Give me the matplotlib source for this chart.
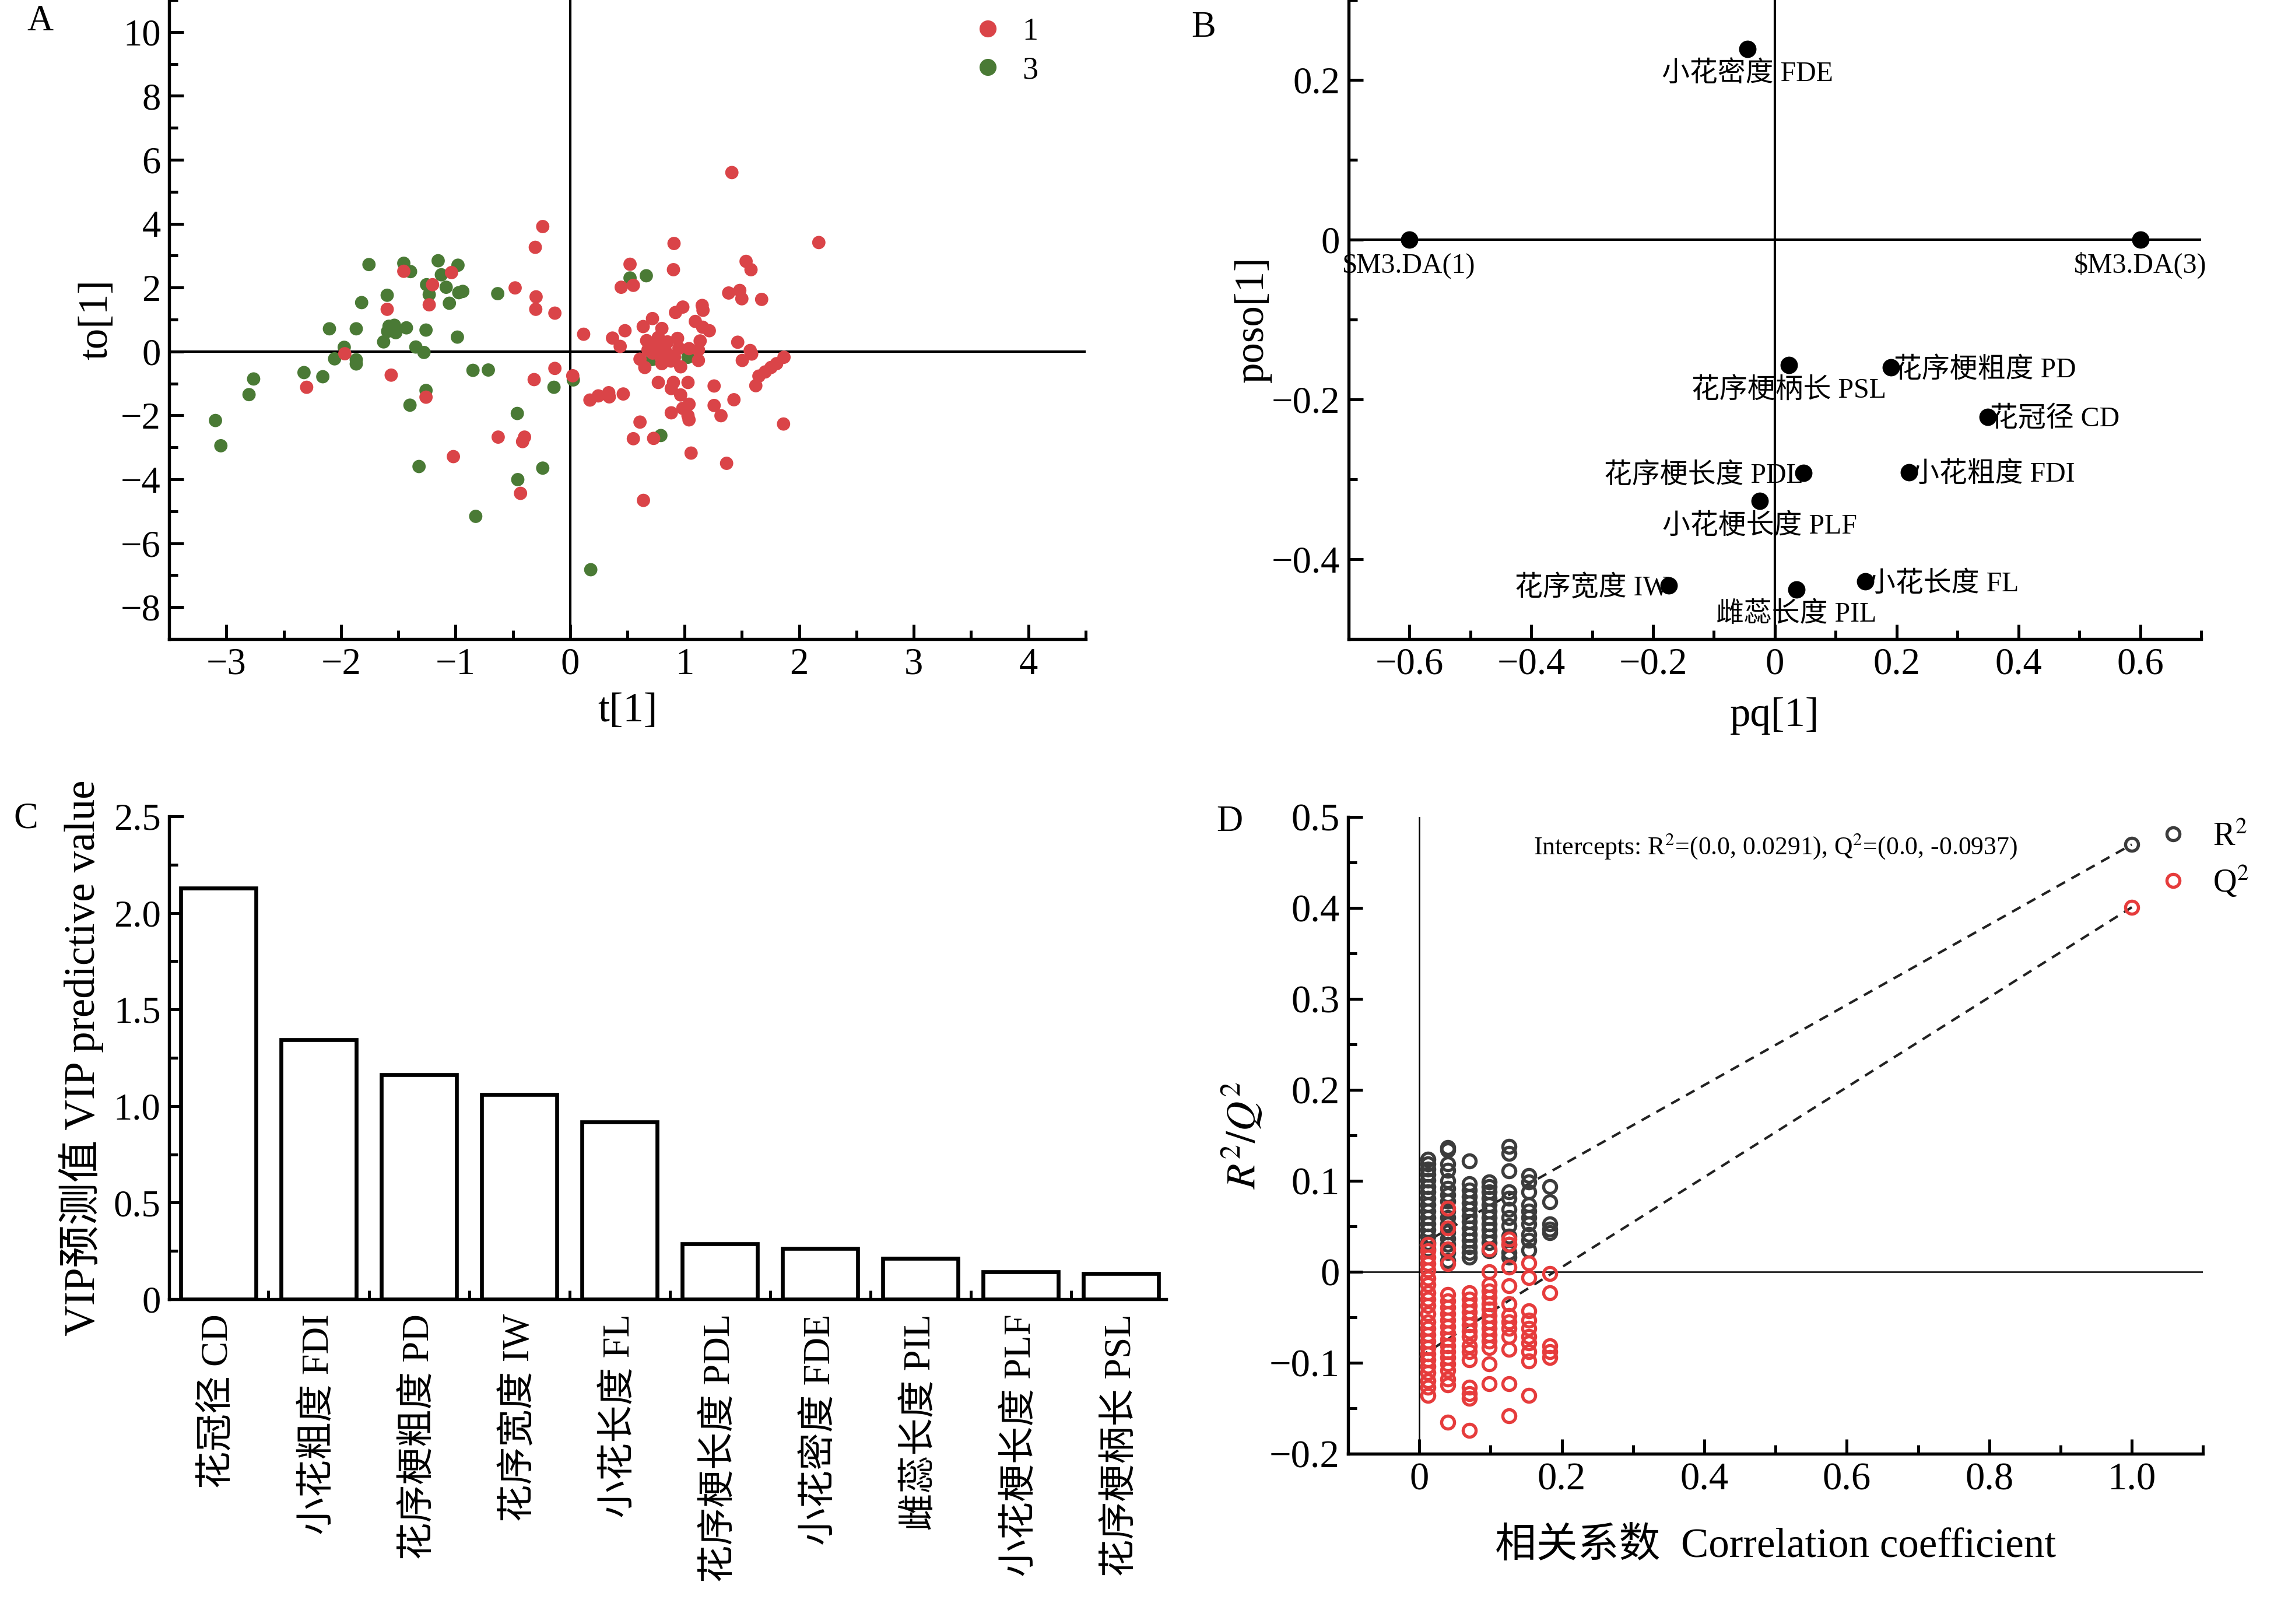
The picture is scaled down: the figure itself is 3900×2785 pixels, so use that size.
import matplotlib
matplotlib.use('Agg')
import numpy as np
import matplotlib.pyplot as plt
from matplotlib.ticker import MultipleLocator, FuncFormatter
from matplotlib.lines import Line2D

plt.rcParams['font.family'] = ['Liberation Serif', 'Noto Sans CJK SC']
plt.rcParams['mathtext.fontset'] = 'stix'
plt.rcParams['axes.unicode_minus'] = True

# ---- panel A : OPLS-DA scores, group 1 (red) and group 3 (green)
g1_t = [-1.452, -1.035, -1.201, -1.597, -1.230, -0.480, -0.297, -0.300, -0.133, -0.239,
        -0.304, -1.967, -2.300, -1.562, -0.133, -0.314, 0.023, -1.258, -0.628, -0.398,
        -0.415, -1.019, -0.433, 1.412, 2.171, 0.907, 0.523, 0.446, 0.552, 0.902,
        1.536, 1.579, 1.384, 1.481, 1.499, 1.672, 0.984, 0.920, 1.153, 1.160,
        0.719, 0.638, 0.801, 1.093, 1.157, 1.215, 0.118, 0.479, 0.370, 0.437,
        0.668, 0.770, 0.938, 1.135, 1.463, 0.774, 0.829, 0.865, 0.792, 1.038,
        1.120, 1.572, 1.585, 0.610, 0.801, 0.911, 1.120, 0.652, 0.965, 1.503,
        1.867, 1.803, 1.754, 1.703, 1.648, 1.621, 0.770, 0.902, 0.883, 1.029,
        0.965, 1.257, 0.173, 0.246, 0.337, 0.342, 0.464, 1.430, 1.038, 0.984,
        0.883, 1.029, 1.038, 1.257, 1.317, 0.610, 1.863, 0.729, 0.552, 1.056,
        1.366, 0.640, 0.750, 0.850, 0.720, 0.880, 0.950, 0.680]
g1_to = [2.51, 2.47, 2.09, 1.32, 1.46, 1.99, 1.71, 1.32, 1.20, 3.91,
         3.26, -0.07, -1.12, -0.74, -0.53, -0.88, -0.76, -1.43, -2.68, -2.68,
         -2.82, -3.29, -4.44, 5.60, 3.41, 3.38, 2.73, 2.01, 2.07, 2.56,
         2.82, 2.56, 1.83, 1.91, 1.65, 1.63, 1.39, 1.22, 1.44, 1.29,
         1.03, 0.78, 0.72, 0.94, 0.76, 0.65, 0.54, 0.65, 0.42, 0.16,
         0.34, 0.44, 0.41, 0.33, 0.29, 0.14, 0.05, -0.12, -0.18, 0.09,
         0.05, 0.03, -0.08, -0.24, -0.38, -0.18, -0.28, -0.50, -0.48, -0.28,
         -0.18, -0.38, -0.50, -0.64, -0.77, -1.07, -0.97, -0.97, -1.16, -0.97,
         -1.36, -1.08, -1.52, -1.39, -1.29, -1.42, -1.33, -1.51, -1.65, -1.78,
         -1.92, -2.01, -2.14, -1.69, -2.01, -2.21, -2.27, -2.72, -2.73, -3.18,
         -3.50, -4.66, 0.25, 0.30, -0.05, -0.30, 0.10, 0.05]
g3_t = [-1.756, -1.452, -1.393, -1.152, -0.979, -1.124, -1.253, -1.082, -1.230, -0.972,
        -0.937, -1.597, -1.820, -1.054, -0.632, -2.101, -1.867, -1.581, -1.534, -1.593,
        -1.522, -1.429, -1.628, -1.258, -0.984, -1.347, -1.276, -1.972, -2.056, -1.867,
        -1.867, -2.323, -2.159, -2.763, -2.803, -0.848, -0.714, -0.141, 0.028, -1.258,
        -1.398, -3.096, -3.049, -0.461, -1.319, -0.239, -0.457, -0.824, 0.180, 0.523,
        0.665, 0.716, 1.029, 0.792]
g3_to = [2.72, 2.76, 2.50, 2.84, 2.70, 2.40, 2.09, 2.01, 1.78, 1.84,
         1.88, 1.76, 1.53, 1.51, 1.81, 0.71, 0.71, 0.79, 0.82, 0.63,
         0.59, 0.74, 0.30, 0.67, 0.45, 0.14, -0.03, 0.13, -0.23, -0.26,
         -0.39, -0.66, -0.79, -0.86, -1.35, -0.59, -0.58, -1.12, -0.89, -1.22,
         -1.68, -2.16, -2.95, -1.94, -3.60, -3.65, -4.01, -5.16, -6.83, 2.30,
         2.37, -0.25, -0.18, -2.63]

# ---- panel B : loadings
load_names = ['小花密度 FDE', '$M3.DA(1)', '$M3.DA(3)', '花序梗柄长 PSL', '花序梗粗度 PD',
              '花冠径 CD', '小花粗度 FDI', '花序梗长度 PDL', '小花梗长度 PLF',
              '花序宽度 IW', '雌蕊长度 PIL', '小花长度 FL']
load_pq = [-0.045, -0.600, 0.600, 0.023, 0.191, 0.349, 0.220, 0.047, -0.025, -0.174, 0.035, 0.148]
load_poso = [0.239, 0.0, 0.0, -0.157, -0.160, -0.222, -0.291, -0.292, -0.327, -0.433, -0.438, -0.428]
load_pos = ['below', 'below', 'below', 'below', 'right', 'right', 'right', 'left',
            'below', 'left', 'below', 'right']

# ---- panel C : VIP
vip_names = ['花冠径 CD', '小花粗度 FDI', '花序梗粗度 PD', '花序宽度 IW', '小花长度 FL',
             '花序梗长度 PDL', '小花密度 FDE', '雌蕊长度 PIL', '小花梗长度 PLF', '花序梗柄长 PSL']
vip_values = [2.13, 1.345, 1.162, 1.061, 0.918, 0.286, 0.263, 0.210, 0.143, 0.134]

# ---- panel D : permutation test
perm_corr = [0.012, 0.040, 0.070, 0.098, 0.126, 0.154, 0.183]
r2_perm = [
    [0.124, 0.119, 0.113, 0.107, 0.101, 0.094, 0.088, 0.081, 0.074, 0.067, 0.060, 0.053,
     0.046, 0.039, 0.032, 0.025],
    [0.137, 0.134, 0.119, 0.112, 0.100, 0.092, 0.085, 0.078, 0.067, 0.060, 0.053, 0.044,
     0.037, 0.030, 0.021, 0.012],
    [0.122, 0.097, 0.090, 0.083, 0.076, 0.069, 0.062, 0.055, 0.048, 0.041, 0.035, 0.028,
     0.021, 0.016],
    [0.099, 0.094, 0.088, 0.081, 0.074, 0.067, 0.060, 0.053, 0.046, 0.039, 0.032, 0.023],
    [0.138, 0.130, 0.111, 0.088, 0.081, 0.069, 0.060, 0.051, 0.039, 0.030, 0.021, 0.016],
    [0.106, 0.099, 0.088, 0.074, 0.067, 0.060, 0.053, 0.041, 0.035, 0.024],
    [0.094, 0.077, 0.053, 0.047, 0.043],
]
q2_perm = [
    [0.030, 0.023, 0.016, 0.009, 0.002, -0.007, -0.014, -0.023, -0.030, -0.037, -0.046,
     -0.055, -0.062, -0.069, -0.076, -0.083, -0.090, -0.097, -0.104, -0.111, -0.120,
     -0.127, -0.136],
    [0.070, 0.048, 0.025, 0.009, -0.025, -0.032, -0.039, -0.046, -0.053, -0.060, -0.067,
     -0.074, -0.081, -0.088, -0.094, -0.101, -0.108, -0.118, -0.124, -0.165],
    [-0.023, -0.030, -0.037, -0.044, -0.051, -0.058, -0.065, -0.071, -0.081, -0.088,
     -0.097, -0.127, -0.134, -0.139, -0.174],
    [0.025, 0.000, -0.014, -0.021, -0.028, -0.035, -0.041, -0.048, -0.055, -0.062, -0.069,
     -0.076, -0.083, -0.101, -0.123],
    [0.036, 0.030, 0.005, -0.015, -0.035, -0.048, -0.055, -0.062, -0.071, -0.085, -0.123,
     -0.158],
    [0.010, -0.006, -0.043, -0.053, -0.062, -0.071, -0.078, -0.088, -0.098, -0.136],
    [-0.002, -0.023, -0.081, -0.088, -0.094],
]
model_corr = 1.0
r2_model = 0.470
q2_model = 0.401
r2_intercept = 0.0291
q2_intercept = -0.0937

RED = '#da4448'
GREEN = '#4a7a35'
D_RED = '#e63c3c'
D_GRAY = '#3c3c3c'


def fmt1(v, pos):
    if abs(v) < 1e-9:
        return '0'
    return ('%.1f' % v).replace('-', '\u2212')


def fmt_int(v, pos):
    if abs(v) < 1e-9:
        return '0'
    return ('%d' % round(v)).replace('-', '\u2212')


def style(ax, size):
    ax.spines['top'].set_visible(False)
    ax.spines['right'].set_visible(False)
    for s in ['left', 'bottom']:
        ax.spines[s].set_linewidth(1.3)
    ax.tick_params(which='both', direction='in', width=1.2, labelsize=size)
    ax.tick_params(which='major', length=6)
    ax.tick_params(which='minor', length=3.5)


fig = plt.figure(figsize=(13, 2785 / 300), dpi=300)

# ---------------- A
axA = fig.add_axes([0.0744, 0.6065, 0.403, 0.3935])
axA.scatter(g3_t, g3_to, s=30, color=GREEN, edgecolors='none', zorder=3)
axA.scatter(g1_t, g1_to, s=30, color=RED, edgecolors='none', zorder=3)
axA.axhline(0, color='k', lw=1.0, zorder=2)
axA.axvline(0, color='k', lw=1.0, zorder=2)
axA.set_xlim(-3.5, 4.5)
axA.set_ylim(-9, 11)
axA.xaxis.set_major_locator(MultipleLocator(1))
axA.xaxis.set_minor_locator(MultipleLocator(0.5))
axA.yaxis.set_major_locator(MultipleLocator(2))
axA.yaxis.set_minor_locator(MultipleLocator(1))
axA.xaxis.set_major_formatter(FuncFormatter(fmt_int))
axA.yaxis.set_major_formatter(FuncFormatter(fmt_int))
style(axA, 15.5)
axA.set_xlabel('t[1]', fontsize=17, labelpad=4)
axA.set_ylabel('to[1]', fontsize=17, labelpad=2)
hA = [Line2D([], [], ls='none', marker='o', ms=6, color=RED),
      Line2D([], [], ls='none', marker='o', ms=6, color=GREEN)]
axA.legend(hA, ['1', '3'], loc='upper left', bbox_to_anchor=(0.845, 1.018), frameon=False,
           fontsize=13, handletextpad=0.6, labelspacing=0.3, handlelength=1.0)

# ---------------- B
axB = fig.add_axes([0.593, 0.6065, 0.375, 0.3935])
axB.scatter(load_pq, load_poso, s=38, color='k', zorder=3)
axB.axhline(0, color='k', lw=1.0, zorder=2)
axB.axvline(0, color='k', lw=1.0, zorder=2)
for name, x, y, p in zip(load_names, load_pq, load_poso, load_pos):
    if p == 'below':
        axB.annotate(name, (x, y), xytext=(0, -5), textcoords='offset points',
                     ha='center', va='top', fontsize=11.5)
    elif p == 'right':
        axB.annotate(name, (x, y), xytext=(1, -1), textcoords='offset points',
                     ha='left', va='center', fontsize=11.5)
    else:
        axB.annotate(name, (x, y), xytext=(0, -1), textcoords='offset points',
                     ha='right', va='center', fontsize=11.5)
axB.set_xlim(-0.7, 0.7)
axB.set_ylim(-0.5, 0.3)
axB.xaxis.set_major_locator(MultipleLocator(0.2))
axB.xaxis.set_minor_locator(MultipleLocator(0.1))
axB.yaxis.set_major_locator(MultipleLocator(0.2))
axB.yaxis.set_minor_locator(MultipleLocator(0.1))
axB.xaxis.set_major_formatter(FuncFormatter(fmt1))
axB.yaxis.set_major_formatter(FuncFormatter(fmt1))
style(axB, 15.5)
axB.set_xlabel('pq[1]', fontsize=17, labelpad=6)
axB.set_ylabel('poso[1]', fontsize=17, labelpad=0)

# ---------------- C
axC = fig.add_axes([0.0744, 0.2, 0.4385, 0.2973])
xc = np.arange(len(vip_names))
axC.bar(xc, vip_values, width=0.75, color='white', edgecolor='k', linewidth=1.6, zorder=2)
axC.set_xlim(-0.49, 9.45)
axC.set_ylim(0, 2.5)
axC.set_xticks(xc)
axC.set_xticklabels(vip_names, rotation=90, fontsize=16.5)
axC.xaxis.set_minor_locator(MultipleLocator(1, offset=0.5))
axC.yaxis.set_major_locator(MultipleLocator(0.5))
axC.yaxis.set_minor_locator(MultipleLocator(0.25))
axC.yaxis.set_major_formatter(FuncFormatter(fmt1))
style(axC, 15.5)
axC.tick_params(axis='x', which='major', length=0, pad=6)
axC.set_ylabel('VIP预测值 VIP predictive value', fontsize=17.5, labelpad=4)

# ---------------- D
axD = fig.add_axes([0.5928, 0.1048, 0.376, 0.392])
axD.axhline(0, color='k', lw=0.6, zorder=1)
axD.axvline(0, color='k', lw=0.6, zorder=1)
axD.plot([0, model_corr], [r2_intercept, r2_model], ls=(0, (4, 3)), color='#222222', lw=1.0, zorder=2)
axD.plot([0, model_corr], [q2_intercept, q2_model], ls=(0, (4, 3)), color='#222222', lw=1.0, zorder=2)
for c, vals in zip(perm_corr, r2_perm):
    axD.plot([c] * len(vals), vals, ls='none', marker='o', ms=5.3, mfc='none', mec=D_GRAY, mew=1.3, zorder=3)
for c, vals in zip(perm_corr, q2_perm):
    axD.plot([c] * len(vals), vals, ls='none', marker='o', ms=5.3, mfc='none', mec=D_RED, mew=1.3, zorder=3)
axD.plot([model_corr], [r2_model], ls='none', marker='o', ms=5.3, mfc='none', mec=D_GRAY, mew=1.3, zorder=3)
axD.plot([model_corr], [q2_model], ls='none', marker='o', ms=5.3, mfc='none', mec=D_RED, mew=1.3, zorder=3)
axD.set_xlim(-0.1, 1.1)
axD.set_ylim(-0.2, 0.5)
axD.xaxis.set_major_locator(MultipleLocator(0.2))
axD.xaxis.set_minor_locator(MultipleLocator(0.1))
axD.yaxis.set_major_locator(MultipleLocator(0.1))
axD.yaxis.set_minor_locator(MultipleLocator(0.05))
axD.xaxis.set_major_formatter(FuncFormatter(fmt1))
axD.yaxis.set_major_formatter(FuncFormatter(fmt1))
style(axD, 16)
axD.set_xlabel('相关系数  Correlation coefficient', fontsize=17, labelpad=12)
axD.set_ylabel('$R^2/Q^2$', fontsize=17, labelpad=2)
axD.text(0.5, 0.955, 'Intercepts: R$^2$=(0.0, 0.0291), Q$^2$=(0.0, -0.0937)',
         transform=axD.transAxes, ha='center', va='center', fontsize=10.5)
hD = [Line2D([], [], ls='none', marker='o', ms=5.3, mfc='none', mec=D_GRAY, mew=1.3),
      Line2D([], [], ls='none', marker='o', ms=5.3, mfc='none', mec=D_RED, mew=1.3)]
axD.legend(hD, ['R$^2$', 'Q$^2$'], loc='upper right', bbox_to_anchor=(0.999, 0.508),
           bbox_transform=fig.transFigure, frameon=False, borderpad=0.2,
           fontsize=13.5, handletextpad=0.7, labelspacing=0.35, handlelength=1.0)

# panel letters
fig.text(0.012, 0.997, 'A', fontsize=15, va='top')
fig.text(0.524, 0.993, 'B', fontsize=15, va='top')
fig.text(0.006, 0.506, 'C', fontsize=15, va='top')
fig.text(0.535, 0.504, 'D', fontsize=15, va='top')

fig.savefig('out.png', dpi=300)
